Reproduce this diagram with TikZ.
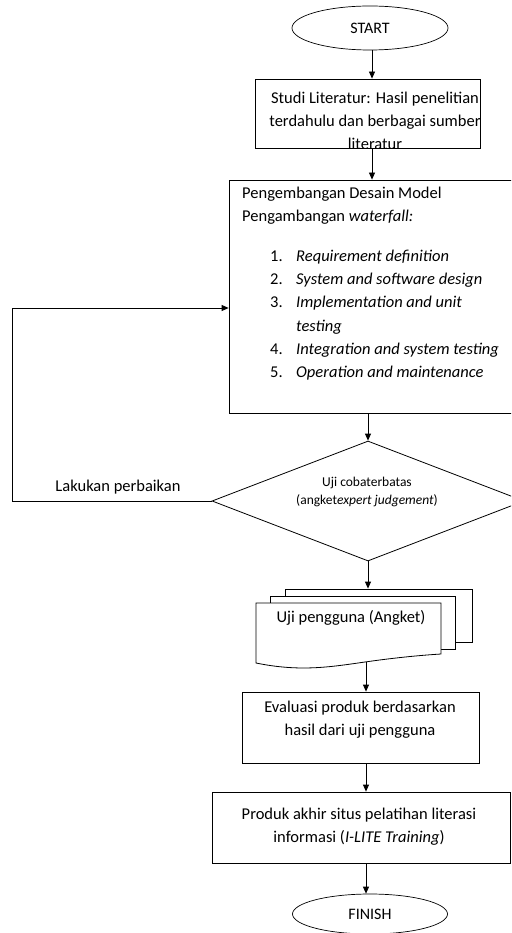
\documentclass[tikz,border=0pt]{standalone}
\usepackage{fontspec}
\setmainfont{Carlito}
\usetikzlibrary{shapes.geometric,arrows.meta}

\tikzset{
  box/.style={draw, rectangle, inner sep=0pt, line width=0.8pt},
  terminal/.style={draw, ellipse, inner sep=0pt, line width=0.7pt, font=\fontsize{16}{20}\selectfont},
  txt/.style={inner sep=0pt, font=\fontsize{16.5}{23}\selectfont},
  smalltxt/.style={inner sep=0pt, font=\fontsize{13.5}{17.5}\selectfont},
  arr/.style={-{Triangle[length=7pt,width=6pt]}, line width=0.8pt},
}

\begin{document}
\begin{tikzpicture}[x=1pt, y=-1pt]
\clip (0,0) rectangle (511,933);
% start
\node[terminal, minimum width=156pt, minimum height=44pt] (start) at (370,28) {START};
% studi literatur
\node[box, minimum width=225pt, minimum height=69pt] (studi) at (367.5,113.5) {};
\begin{scope}
\clip (studi.south west) rectangle (studi.north east);
\node[txt, align=center] (studiT) at (375,121) {Studi Literatur: Hasil penelitian\\terdahulu dan berbagai sumber\\literatur};
\end{scope}
% model waterfall
\node[box, minimum width=291pt, minimum height=233pt] (model) at (374.5,296.5) {};
\node[txt, anchor=base west] (head1) at (242,199) {Pengembangan Desain Model};
\node[txt, anchor=base west] (head2) at (242,222) {Pengambangan \textit{waterfall:}};
\node[txt, anchor=base west] (item1) at (270,261) {\makebox[26pt][l]{1.}\textit{Requirement definition}};
\node[txt, anchor=base west] (item2) at (270,284) {\makebox[26pt][l]{2.}\textit{System and software design}};
\node[txt, anchor=base west] (item3) at (270,307) {\makebox[26pt][l]{3.}\textit{Implementation and unit}};
\node[txt, anchor=base west] (item3b) at (296,331) {\textit{testing}};
\node[txt, anchor=base west] (item4) at (270,354) {\makebox[26pt][l]{4.}\textit{Integration and system testing}};
\node[txt, anchor=base west] (item5) at (270,377) {\makebox[26pt][l]{5.}\textit{Operation and maintenance}};
% uji coba
\node[draw, diamond, minimum width=312pt, minimum height=120pt, inner sep=0pt, line width=0.8pt] (uji) at (368,501) {};
\node[smalltxt, align=center] (ujiT) at (367,492) {Uji cobaterbatas\\(angket\textit{expert judgement})};
% perbaikan
\coordinate (back) at (12,308);
\node[txt] (lbl) at (118,487) {Lakukan perbaikan};
% uji pengguna
\node[box, fill=white, minimum width=187pt, minimum height=53pt] (sheetC) at (378.5,615.5) {};
\node[box, fill=white, minimum width=185pt, minimum height=53pt] (sheetB) at (362.5,622.5) {};
\draw[line width=0.8pt, fill=white] (256,603) -- (441,603) -- (441,654)
  .. controls (425,655) and (400,657) .. (365,662)
  .. controls (330,667) and (300,672) .. (256,663) -- cycle;
\node[txt] (doc) at (351,618) {Uji pengguna (Angket)};
\coordinate (docbot) at (366,662);
% evaluasi
\node[box, minimum width=237pt, minimum height=71pt] (eval) at (360.5,727.5) {};
\node[txt, align=center] (evalT) at (360,720) {Evaluasi produk berdasarkan\\hasil dari uji pengguna};
% produk akhir
\node[box, minimum width=298pt, minimum height=71pt] (produk) at (361,827.5) {};
\node[txt, align=center] (produkT) at (359,826.5) {Produk akhir situs pelatihan literasi\\informasi (\textit{I-LITE Training})};
% finish
\node[terminal, minimum width=155pt, minimum height=40pt] (finish) at (370,914) {FINISH};
% arrows
\coordinate (axisA) at (372,0);
\coordinate (axisB) at (366,0);
\draw[arr] (start.south -| axisA) -- (studi.north -| axisA);
\draw[arr] (studi.south -| axisA) -- (model.north -| axisA);
\draw[arr] (model.south -| uji.north) -- (uji.north);
\draw[arr] (uji.west) -| (back) -- (back -| model.west);
\draw[arr] (uji.south) -- (uji.south |- sheetC.north);
\draw[arr] (docbot) -- (docbot |- eval.north);
\draw[arr] (eval.south -| axisB) -- (produk.north -| axisB);
\draw[arr] (produk.south -| axisB) -- (finish.north -| axisB);
\end{tikzpicture}
\end{document}
